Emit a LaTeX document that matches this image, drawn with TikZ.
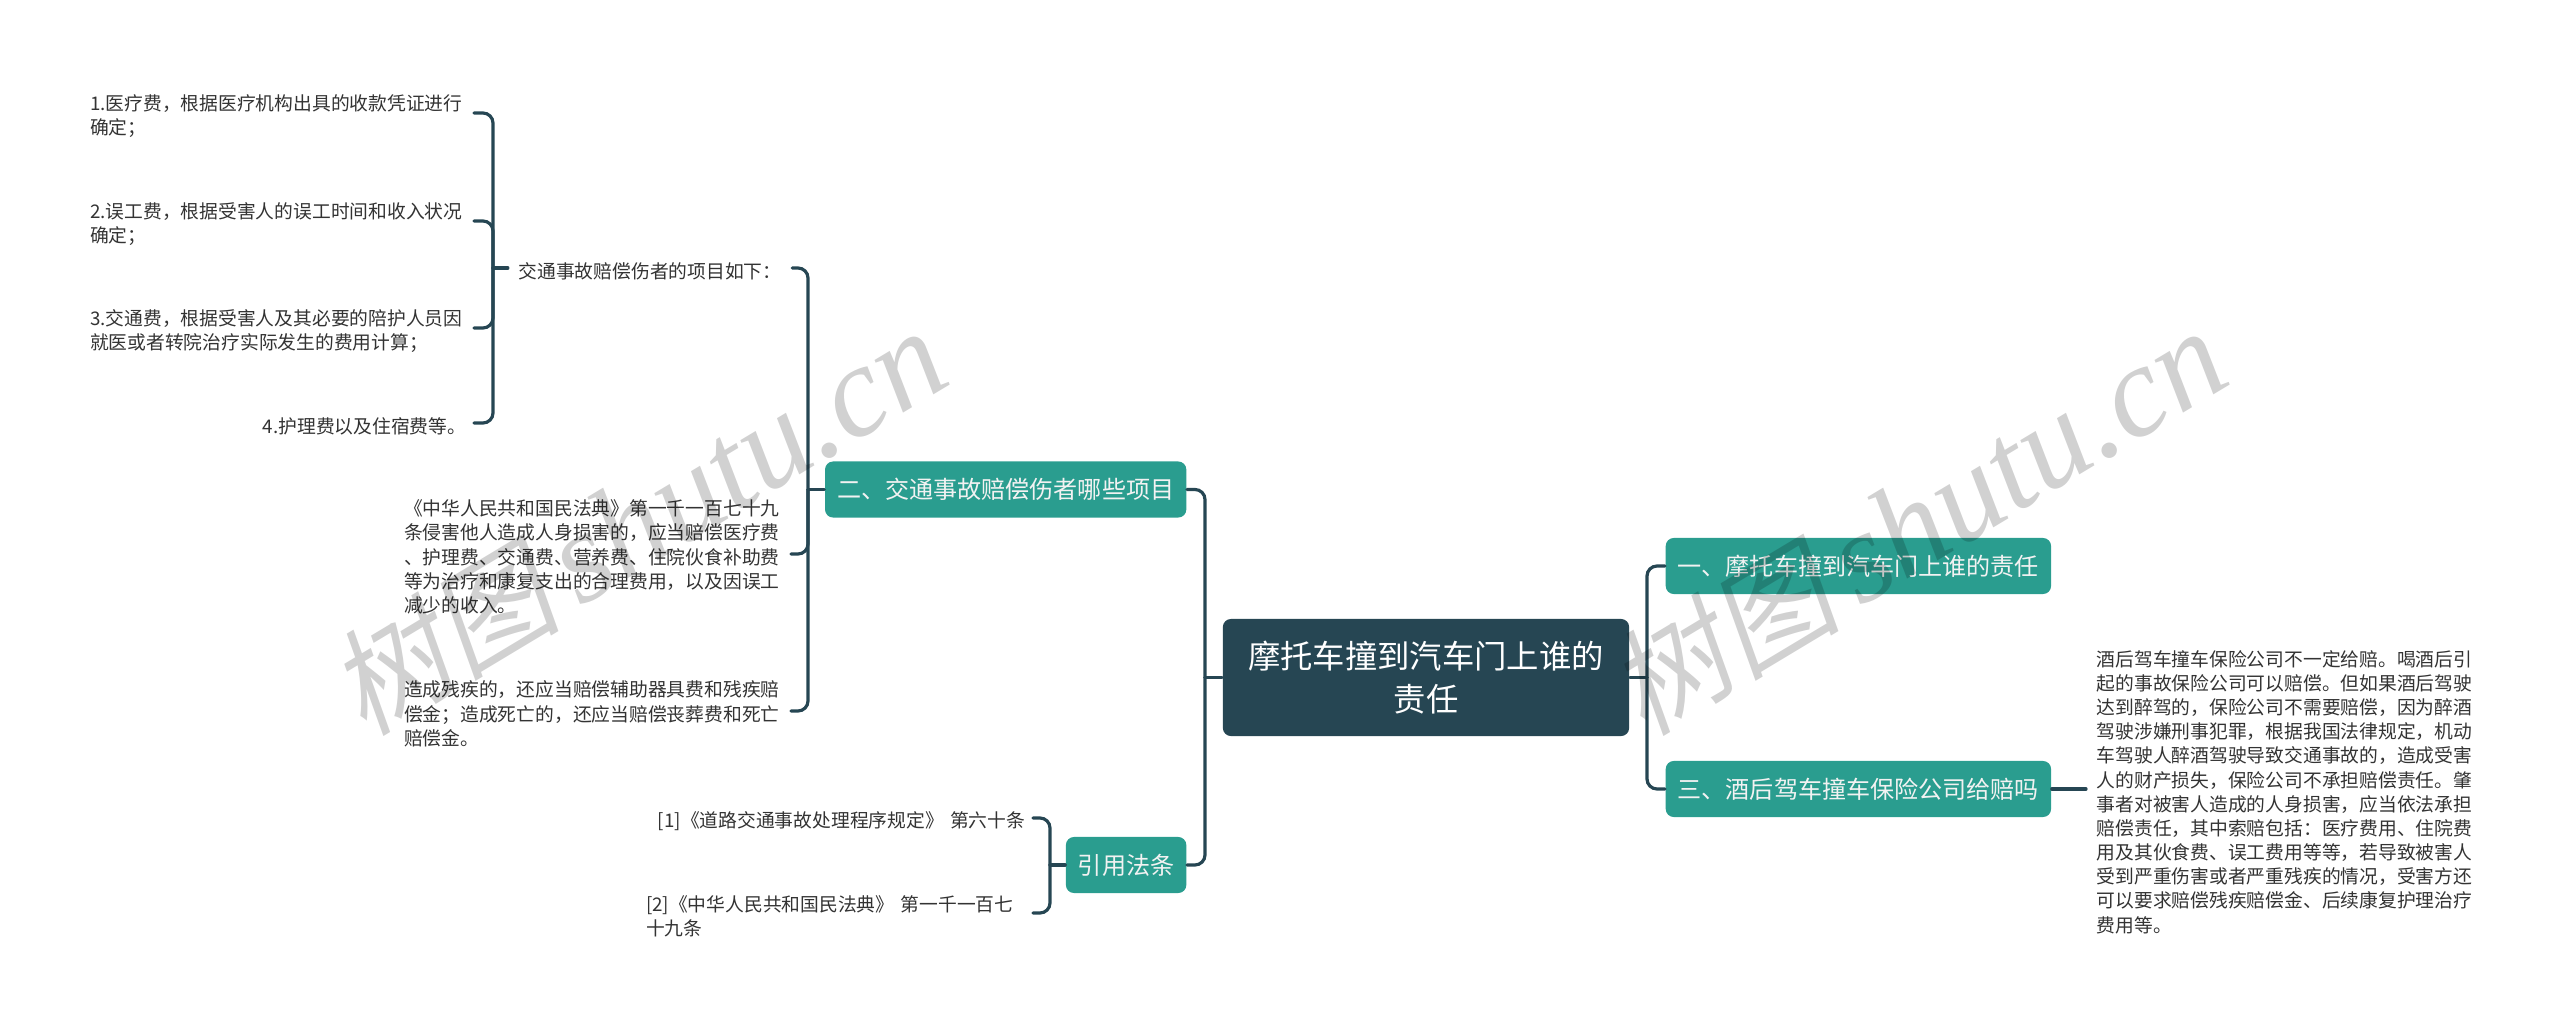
\documentclass[tikz,border=0pt]{standalone}
\usepackage{fontspec}
\setmainfont{Noto Sans CJK SC}
\newfontfamily\markcjk[FakeSlant=0.2]{Noto Sans CJK SC}
\newfontfamily\marklatin{Liberation Serif}
\usepackage{xcolor}
\definecolor{rootfill}{HTML}{264653}
\definecolor{secfill}{HTML}{2A9D8F}
\definecolor{leafink}{HTML}{333333}
\tikzset{
    rootbox/.style={fill=rootfill,text=white,rounded corners=0.08cm,minimum width=4.06cm,minimum height=1.17cm,inner sep=0pt,align=center,font=\fontsize{9.2}{12.2}\selectfont},
    secbox/.style={fill=secfill,text=white!95!black,rounded corners=0.08cm,minimum height=0.56cm,inner xsep=0.12cm,inner ysep=0pt,font=\fontsize{6.85}{8}\selectfont},
    leaftext/.style={text=leafink,inner xsep=0.1cm,inner ysep=0pt,text width=3.76cm,align=left,font=\fontsize{5.34}{6.88}\selectfont,execute at begin node={\rule{0pt}{6.2pt}}},
    plaintext/.style={text=leafink,inner xsep=0.1cm,inner ysep=0pt,text height=0.23cm,text depth=0.03cm,font=\fontsize{5.34}{6.88}\selectfont},
    link/.style={draw=rootfill,line width=0.032cm,line cap=round,rounded corners=0.1cm},
    markword/.style={text=black,text opacity=0.18,rotate=31,inner sep=0pt},
}

\begin{document}
\begin{tikzpicture}[x=0.01cm,y=-0.01cm]
\useasboundingbox (0,0) rectangle (2560,1027);

\node [rootbox] (root) at (1426,677.5) {摩托车撞到汽车门上谁的\\责任};
\node [secbox,anchor=west] (secone) at (1665,566) {一、摩托车撞到汽车门上谁的责任};
\node [secbox,anchor=west] (secthree) at (1665,789) {三、酒后驾车撞车保险公司给赔吗};
\node [secbox,anchor=east] (sectwo) at (1187,489.5) {二、交通事故赔偿伤者哪些项目};
\node [secbox,anchor=east] (seclaws) at (1187,865) {引用法条};

\node [plaintext] (items) at (650,268) {交通事故赔偿伤者的项目如下：};
\node [leaftext,text width=3.73cm,anchor=east] (itemone) at (474,113) {1.医疗费，根据医疗机构出具的收款凭证进行\\确定；};
\node [leaftext,text width=3.73cm,anchor=east] (itemtwo) at (474,221) {2.误工费，根据受害人的误工时间和收入状况\\确定；};
\node [leaftext,text width=3.73cm,anchor=east] (itemthree) at (474,328) {3.交通费，根据受害人及其必要的陪护人员因\\就医或者转院治疗实际发生的费用计算；};
\node [leaftext,text width=3.73cm,inner xsep=0.07cm,anchor=east,align=right] (itemfour) at (474,423) {4.护理费以及住宿费等。};

\node [leaftext,anchor=east] (civil) at (791,554) {《中华人民共和国民法典》第一千一百七十九\\条侵害他人造成人身损害的，应当赔偿医疗费\\、护理费、交通费、营养费、住院伙食补助费\\等为治疗和康复支出的合理费用，以及因误工\\减少的收入。};
\node [leaftext,anchor=east] (death) at (791,711) {造成残疾的，还应当赔偿辅助器具费和残疾赔\\偿金；造成死亡的，还应当赔偿丧葬费和死亡\\赔偿金。};

\node [leaftext,inner xsep=0.07cm,anchor=east,align=right] (lawone) at (1033,818) {[1]《道路交通事故处理程序规定》 第六十条};
\node [leaftext,anchor=east] (lawtwo) at (1033,913) {[2]《中华人民共和国民法典》 第一千一百七\\十九条};

\node [leaftext,anchor=west] (drunk) at (2086,789) {酒后驾车撞车保险公司不一定给赔。喝酒后引\\起的事故保险公司可以赔偿。但如果酒后驾驶\\达到醉驾的，保险公司不需要赔偿，因为醉酒\\驾驶涉嫌刑事犯罪，根据我国法律规定，机动\\车驾驶人醉酒驾驶导致交通事故的，造成受害\\人的财产损失，保险公司不承担赔偿责任。肇\\事者对被害人造成的人身损害，应当依法承担\\赔偿责任，其中索赔包括：医疗费用、住院费\\用及其伙食费、误工费用等等，若导致被害人\\受到严重伤害或者严重残疾的情况，受害方还\\可以要求赔偿残疾赔偿金、后续康复护理治疗\\费用等。};

\coordinate (busright) at (1647,677.5);
\coordinate (busleft) at (1205,677.5);
\coordinate (bustwo) at (808,489.5);
\coordinate (buslaws) at (1050,865);
\coordinate (busitems) at (493,268);

\draw [link] (root.east) -- (busright);
\draw [link] (secone.west) -- (busright |- secone.west) -- (busright);
\draw [link] (secthree.west) -- (busright |- secthree.west) -- (busright);
\draw [link] (secthree.east) -- (drunk.west);

\draw [link] (root.west) -- (busleft);
\draw [link] (sectwo.east) -- (busleft |- sectwo.east) -- (busleft);
\draw [link] (seclaws.east) -- (busleft |- seclaws.east) -- (busleft);

\draw [link] (sectwo.west) -- (bustwo);
\draw [link] (items.east) -- (bustwo |- items.east) -- (bustwo);
\draw [link] (civil.east) -- (bustwo |- civil.east) -- (bustwo);
\draw [link] (death.east) -- (bustwo |- death.east) -- (bustwo);

\draw [link] (items.west) -- (busitems);
\draw [link] (itemone.east) -- (busitems |- itemone.east) -- (busitems);
\draw [link] (itemtwo.east) -- (busitems |- itemtwo.east) -- (busitems);
\draw [link] (itemthree.east) -- (busitems |- itemthree.east) -- (busitems);
\draw [link] (itemfour.east) -- (busitems |- itemfour.east) -- (busitems);

\draw [link] (seclaws.west) -- (buslaws);
\draw [link] (lawone.east) -- (buslaws |- lawone.east) -- (buslaws);
\draw [link] (lawtwo.east) -- (buslaws |- lawtwo.east) -- (buslaws);

\node [markword] (markleft) at (637,522) {\fontsize{33}{33}\markcjk 树图\,\fontsize{37}{37}\marklatin\itshape shutu.cn};
\node [markword] (markright) at (1917,522) {\fontsize{33}{33}\markcjk 树图\,\fontsize{37}{37}\marklatin\itshape shutu.cn};
\end{tikzpicture}
\end{document}
